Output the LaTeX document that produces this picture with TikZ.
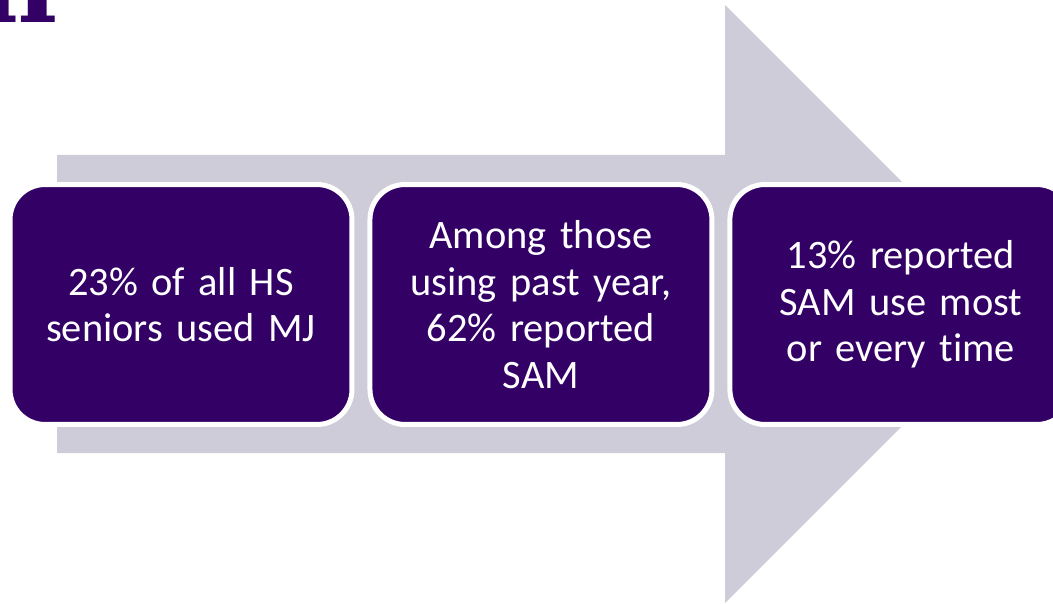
\documentclass[tikz,border=0pt]{standalone}
\usepackage{fontspec}
\setmainfont{Carlito}[Ligatures=CommonOff]
\newfontfamily\titlefont{DejaVu Serif}
\usetikzlibrary{positioning}
\definecolor{stagepurple}{RGB}{51,0,102}
\definecolor{arrowgray}{RGB}{205,204,216}
\tikzstyle{stage} = [rectangle, rounded corners=0.7cm, fill=stagepurple, draw=white, line width=0.1cm, minimum width=6.84cm, minimum height=4.8cm, text=white, align=center, text width=6cm, font=\fontsize{23}{26.5}\selectfont, inner sep=0pt, outer sep=0pt]

\begin{document}
\begin{tikzpicture} [x=0.02cm,y=-0.02cm]

		\useasboundingbox (0,0) rectangle (1053,604);
		\clip (0,0) rectangle (1053,604);

		\node [anchor=base west, inner sep=0pt, text=stagepurple, font=\titlefont\bfseries\fontsize{62}{62}\selectfont] (title) at (-22,23) {n};

		\fill [arrowgray] (57,155) -- (725,155) -- (725,5) -- (1024,304) -- (725,603) -- (725,453) -- (57,453) -- cycle;

		\node [stage] (used) at (181,304.5) {23\% of all HS\\seniors used MJ};
		\node [stage, right=0.36cm of used] (sam) {Among those\\using past year,\\62\% reported\\SAM};
		\node [stage, right=0.36cm of sam] (most) {13\% reported\\SAM use most\\or every time};

\end{tikzpicture}
\end{document}
